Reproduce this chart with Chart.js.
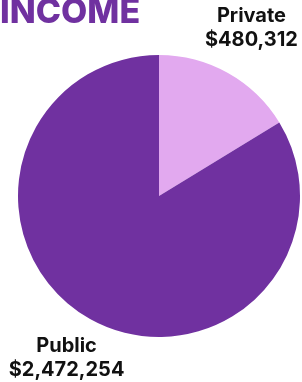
<!DOCTYPE html>
<html>
<head>
<meta charset="utf-8">
<script src="https://cdn.jsdelivr.net/npm/chart.js@4"></script>
<style>
  html, body { margin: 0; padding: 0; background: #fff; }
  #wrap { width: 302px; height: 382px; position: relative; }
</style>
</head>
<body>
<div id="wrap"><canvas id="myChart"></canvas></div>
<script>
const titleText = 'INCOME';
const categories = ['Private', 'Public'];
const incomeValues = [480312, 2472254];
const sliceColors = ['#E2A9EF', '#7031A0'];

const fmt = (v) => '$' + v.toLocaleString('en-US');

// draws title and the outside labels at the slice mid angles
const outsideLabels = {
  id: 'outsideLabels',
  afterDraw(chart) {
    const ctx = chart.ctx;
    ctx.save();
    ctx.fillStyle = '#7031A0';
    ctx.font = '800 34px Inter';
    ctx.textAlign = 'left';
    ctx.textBaseline = 'alphabetic';
    ctx.fillText(titleText, 0, 23);

    const meta = chart.getDatasetMeta(0);
    meta.data.forEach((arc, i) => {
      const p = arc.getProps(['x', 'y', 'startAngle', 'endAngle', 'outerRadius'], true);
      const mid = (p.startAngle + p.endAngle) / 2;
      const d = p.outerRadius + 48;
      const x = p.x + Math.cos(mid) * d;
      const y = p.y + Math.sin(mid) * d;
      ctx.fillStyle = '#111';
      ctx.font = '700 20px Inter';
      ctx.textAlign = 'center';
      ctx.textBaseline = 'alphabetic';
      ctx.fillText(categories[i], x, y - 9);
      ctx.fillText(fmt(incomeValues[i]), x, y + 15);
    });
    ctx.restore();
  }
};

new Chart(document.getElementById('myChart'), {
  type: 'pie',
  data: {
    labels: categories,
    datasets: [{
      data: incomeValues,
      backgroundColor: sliceColors,
      borderWidth: 0
    }]
  },
  options: {
    responsive: true,
    maintainAspectRatio: false,
    animation: false,
    layout: { padding: { left: 18, right: 2, top: 55, bottom: 45 } },
    plugins: {
      legend: { display: false },
      tooltip: { enabled: false }
    }
  },
  plugins: [outsideLabels]
});
</script>
</body>
</html>
